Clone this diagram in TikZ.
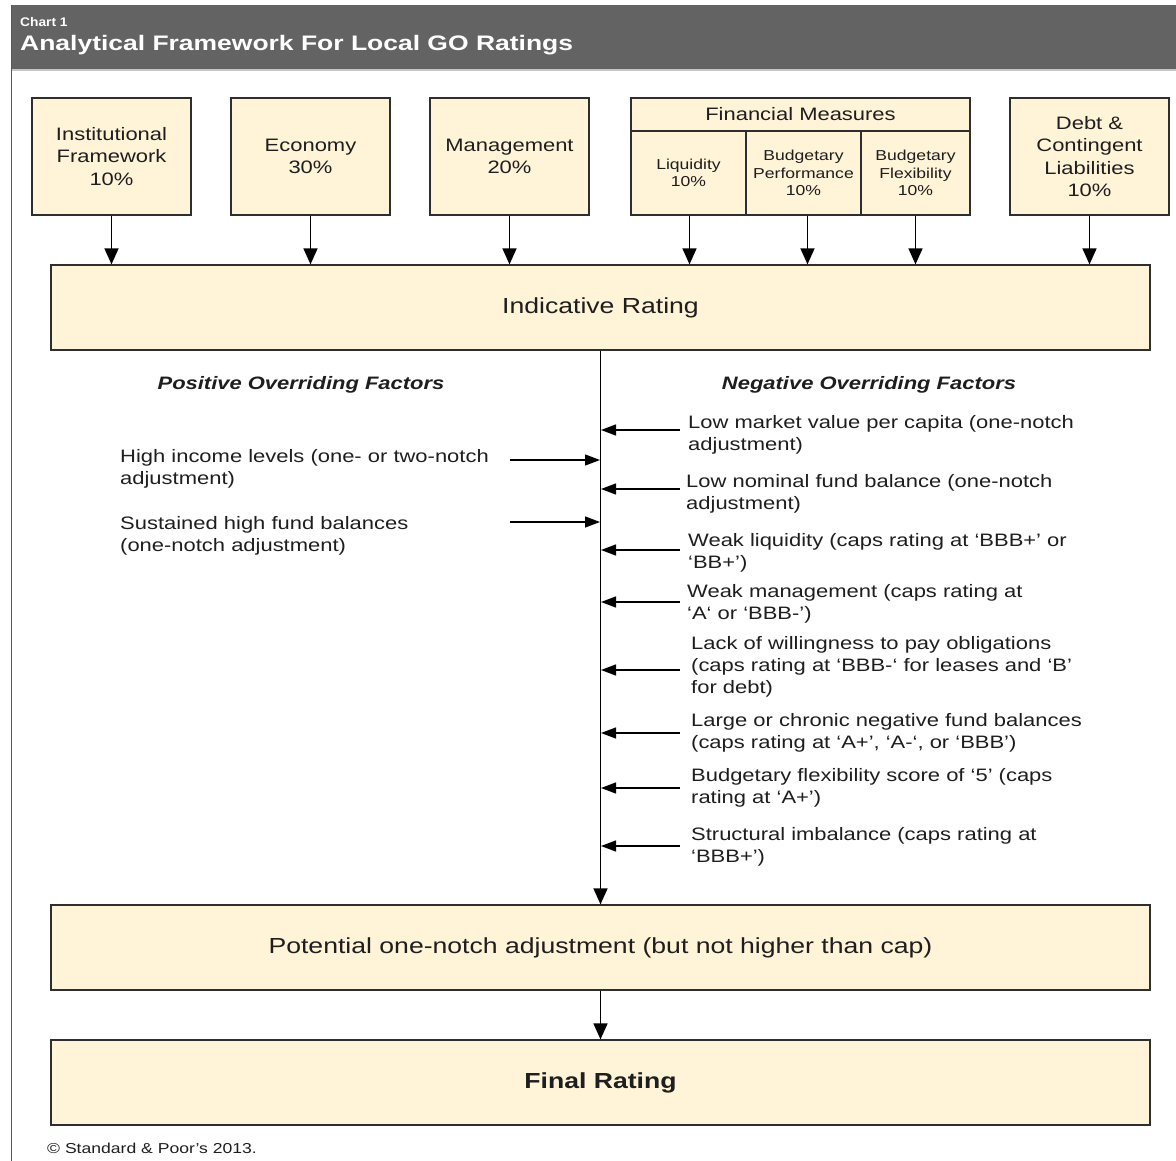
\documentclass[tikz,border=0pt]{standalone}
\usepackage{fontspec}
\setmainfont{Liberation Sans}[FakeStretch=1.22]
\newfontfamily\titlefont{Liberation Sans}[FakeStretch=1.26]
\newfontfamily\chartfont{Liberation Sans}[FakeStretch=1.1]
\usetikzlibrary{arrows.meta}
\definecolor{boxfill}{HTML}{FFF3D8}
\definecolor{boxline}{HTML}{2E2E2E}
\definecolor{headgray}{HTML}{636363}
\definecolor{textc}{HTML}{1E1E1E}
\newcommand\fsNorm{\fontsize{18}{22.3}\selectfont}
\newcommand\fsSmall{\fontsize{14.4}{17.5}\selectfont}
\newcommand\fsBig{\fontsize{21.8}{26}\selectfont}
\tikzset{
  fbox/.style={draw=boxline, fill=boxfill, line width=1.2pt, inner sep=0pt, align=center, text=textc},
  txt/.style={inner sep=0pt, align=left, text=textc, font=\fsNorm},
  varr/.style={draw=black, line width=1.4pt, -{Triangle[width=14pt,length=16pt]}},
  harr/.style={draw=black, line width=1.3pt, -{Triangle[width=11pt,length=15pt]}}
}
\begin{document}
\begin{tikzpicture}[x=1pt,y=-1pt]
\useasboundingbox (0,0) rectangle (1176,1161);
\fill[white] (0,0) rectangle (1176,1161);
% header
\fill[headgray] (11,5) rectangle (1176,70);
\draw[gray!45, line width=1.5pt] (11,70) -- (1176,70);
\draw[gray!70!black, line width=1pt] (11,5) -- (11,1161);
\node[anchor=base west, text=white, font=\chartfont\bfseries\fontsize{12.5}{14}\selectfont, inner sep=0pt] (chart) at (20,27) {Chart 1};
\node[anchor=base west, text=white, font=\titlefont\bfseries\fontsize{21}{24}\selectfont, inner sep=0pt] (title) at (20,51) {Analytical Framework For Local GO Ratings};

% top boxes
\node[fbox, minimum width=159pt, minimum height=117pt, font=\fsNorm] (inst) at (111.5,156.5) {Institutional\\Framework\\10\%};
\node[fbox, minimum width=159pt, minimum height=117pt, font=\fsNorm] (econ) at (310.5,156.5) {Economy\\30\%};
\node[fbox, minimum width=159pt, minimum height=117pt, font=\fsNorm] (mgmt) at (509.5,156.5) {Management\\20\%};
\node[fbox, minimum width=339pt, minimum height=33pt, font=\fsNorm] (fmh) at (800.5,114.5) {Financial Measures};
\node[fbox, minimum width=115pt, minimum height=84pt, font=\fsSmall] (liq) at (688.5,173) {Liquidity\\10\%};
\node[fbox, minimum width=115pt, minimum height=84pt, font=\fsSmall] (bperf) at (803.5,173) {Budgetary\\Performance\\10\%};
\node[fbox, minimum width=109pt, minimum height=84pt, font=\fsSmall] (bflex) at (915.5,173) {Budgetary\\Flexibility\\10\%};
\node[fbox, minimum width=159pt, minimum height=117pt, font=\fsNorm] (debt) at (1089.5,156.5) {Debt \&\\Contingent\\Liabilities\\10\%};

% main boxes
\node[fbox, minimum width=1099pt, minimum height=85pt, font=\fsBig] (ind) at (600.5,307.5) {Indicative Rating};
\node[fbox, minimum width=1099pt, minimum height=85pt, font=\fsBig] (pot) at (600.5,947.5) {Potential one-notch adjustment (but not higher than cap)};
\node[fbox, minimum width=1099pt, minimum height=85pt, font=\fsBig\bfseries] (fin) at (600.5,1082.5) {Final Rating};

% top arrows
\foreach \n/\dx in {inst/0,econ/0,mgmt/0,liq/1,bperf/4,bflex/0,debt/0}
  \draw[varr] ([xshift=\dx pt]\n.south) -- ([xshift=\dx pt]\n.south |- ind.north);

% spine
\draw[varr] (ind.south) -- (pot.north);
\draw[varr] (pot.south) -- (fin.north);

% headings
\node[txt, anchor=base, font=\fsNorm\bfseries\itshape] (poshead) at (301,389) {Positive Overriding Factors};
\node[txt, anchor=base, font=\fsNorm\bfseries\itshape] (neghead) at (869,389) {Negative Overriding Factors};

% positive factors (anchor = baseline of last line)
\node[txt, anchor=base west] (pos1) at (120,484.3) {High income levels (one- or two-notch\\adjustment)};
\node[txt, anchor=base west] (pos2) at (120,551.3) {Sustained high fund balances\\(one-notch adjustment)};
\coordinate (pa1) at (510,460); \coordinate (pb1) at (600,460);
\coordinate (pa2) at (510,522); \coordinate (pb2) at (600,522);
\draw[harr] (pa1) -- (pb1);
\draw[harr] (pa2) -- (pb2);

% negative factors
\node[txt, anchor=base west] (neg1) at (688,450.3) {Low market value per capita (one-notch\\adjustment)};
\node[txt, anchor=base west] (neg2) at (686,509.3) {Low nominal fund balance (one-notch\\adjustment)};
\node[txt, anchor=base west] (neg3) at (688,568.3) {Weak liquidity (caps rating at ‘BBB+’ or\\‘BB+’)};
\node[txt, anchor=base west] (neg4) at (687,619.3) {Weak management (caps rating at\\‘A‘ or ‘BBB-’)};
\node[txt, anchor=base west] (neg5) at (691,693.6) {Lack of willingness to pay obligations\\(caps rating at ‘BBB-‘ for leases and ‘B’\\for debt)};
\node[txt, anchor=base west] (neg6) at (691,748.3) {Large or chronic negative fund balances\\(caps rating at ‘A+’, ‘A-‘, or ‘BBB’)};
\node[txt, anchor=base west] (neg7) at (691,803.3) {Budgetary flexibility score of ‘5’ (caps\\rating at ‘A+’)};
\node[txt, anchor=base west] (neg8) at (691,862.3) {Structural imbalance (caps rating at\\‘BBB+’)};
\foreach \i/\yy in {1/430,2/489,3/550,4/602,5/670,6/733,7/788,8/846} {
  \coordinate (na\i) at (680,\yy);
  \coordinate (nb\i) at (601,\yy);
  \draw[harr] (na\i) -- (nb\i);
}

% footer
\node[txt, anchor=base west, font=\fsSmall] (foot) at (47,1153) {© Standard \& Poor’s 2013.};
\end{tikzpicture}
\end{document}
